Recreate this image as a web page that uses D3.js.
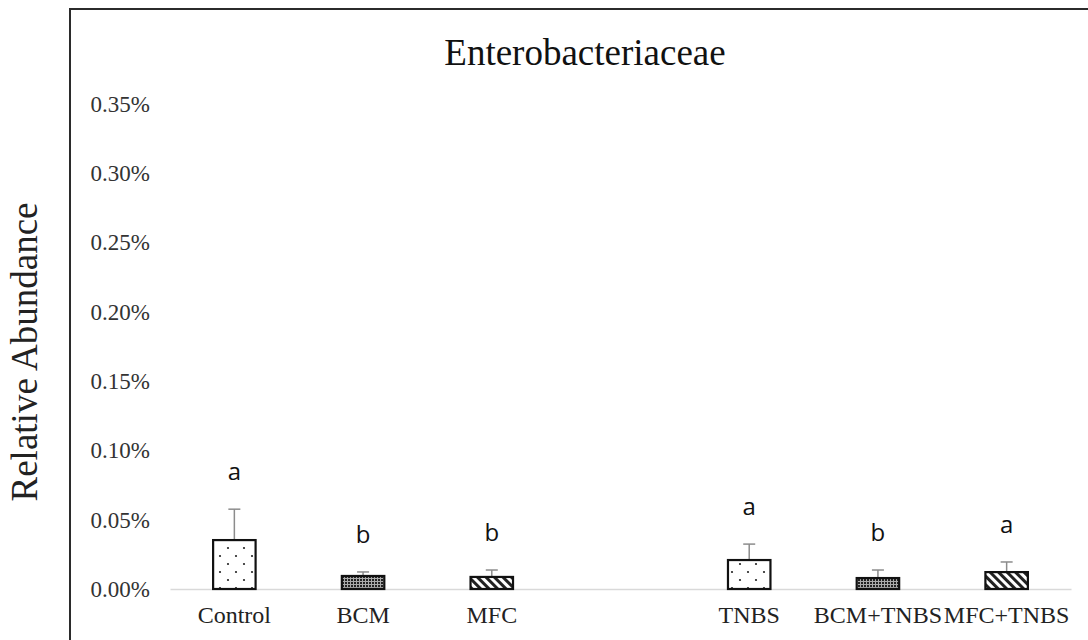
<!DOCTYPE html>
<html>
<head>
<meta charset="utf-8">
<script src="https://cdn.jsdelivr.net/npm/d3@7"></script>
<style>
  body { margin: 0; background: #fff; }
  svg { display: block; }
</style>
</head>
<body>
<script>
// chart data (fractions of 1, shown as %)
var categories = ['Control', 'BCM', 'MFC', '', 'TNBS', 'BCM+TNBS', 'MFC+TNBS'];
var means = [0.000353, 0.000094, 0.000087, null, 0.000209, 0.000079, 0.000122];
var errors = [0.000223, 0.000029, 0.000050, null, 0.000115, 0.000058, 0.000073];
var letters = ['a', 'b', 'b', '', 'a', 'b', 'a'];
var patterns = ['dots', 'dense', 'stripes', '', 'dots', 'dense', 'stripes'];
var yTicks = [0, 0.0005, 0.001, 0.0015, 0.002, 0.0025, 0.003, 0.0035];

var W = 1088, H = 640;
var serif = '"Liberation Serif", "Times New Roman", serif';
var svg = d3.select('body').append('svg')
    .attr('width', W)
    .attr('height', H);

// plot area
var plotLeft = 170, plotRight = 1071, plotTop = 104, plotBottom = 589;

var x = d3.scaleBand().domain(d3.range(categories.length)).range([plotLeft, plotRight])
    .paddingInner(0.67).paddingOuter(0.335);
var y = d3.scaleLinear().domain([0, 0.0035]).range([plotBottom, plotTop]);

// fill patterns
var defs = svg.append('defs');
var pDots = defs.append('pattern').attr('id', 'dots').attr('patternUnits', 'userSpaceOnUse')
    .attr('width', 16).attr('height', 16);
pDots.append('circle').attr('cx', 4).attr('cy', 4).attr('r', 1.1).attr('fill', '#222');
pDots.append('circle').attr('cx', 12).attr('cy', 12).attr('r', 1.1).attr('fill', '#222');

var pDense = defs.append('pattern').attr('id', 'dense').attr('patternUnits', 'userSpaceOnUse')
    .attr('width', 3).attr('height', 3);
pDense.append('rect').attr('width', 3).attr('height', 3).attr('fill', '#aaa');
pDense.append('rect').attr('width', 2).attr('height', 2).attr('fill', '#222');

var pStripes = defs.append('pattern').attr('id', 'stripes').attr('patternUnits', 'userSpaceOnUse')
    .attr('width', 6).attr('height', 6).attr('patternTransform', 'rotate(-45)');
pStripes.append('rect').attr('width', 6).attr('height', 6).attr('fill', '#fff');
pStripes.append('rect').attr('width', 3).attr('height', 6).attr('fill', '#222');

// outer frame (only top and left visible)
svg.append('path')
    .attr('d', 'M70,' + (H + 5) + 'V9H' + (W + 5))
    .attr('fill', 'none')
    .attr('stroke', '#2b2b2b')
    .attr('stroke-width', 2);

// title
svg.append('text')
    .attr('x', 585).attr('y', 65)
    .attr('text-anchor', 'middle')
    .style('font-family', serif)
    .style('font-size', '37px')
    .attr('fill', '#111')
    .text('Enterobacteriaceae');

// y-axis label
svg.append('text')
    .attr('transform', 'translate(37,352) rotate(-90)')
    .attr('text-anchor', 'middle')
    .style('font-family', serif)
    .style('font-size', '37px')
    .attr('fill', '#222')
    .text('Relative Abundance');

// y-axis tick labels
var yAxis = d3.axisLeft(y).tickValues(yTicks).tickSize(0).tickPadding(0)
    .tickFormat(d3.format('.2%'));
var gy = svg.append('g').attr('transform', 'translate(150,0)').call(yAxis);
gy.select('.domain').remove();
gy.selectAll('text')
    .style('font-family', serif)
    .style('font-size', '23px')
    .attr('fill', '#333');

// baseline / x-axis
var xAxis = d3.axisBottom(x).tickSize(0).tickPadding(17)
    .tickFormat(function(i) { return categories[i]; });
var gx = svg.append('g').attr('transform', 'translate(0,' + plotBottom + ')').call(xAxis);
gx.select('.domain').attr('stroke', '#d9d9d9').attr('stroke-width', 1.5);
gx.selectAll('text')
    .style('font-family', serif)
    .style('font-size', '24px')
    .attr('fill', '#222');

var idx = d3.range(categories.length).filter(function(i) { return means[i] !== null; });

// error bars (upper only)
var eb = svg.append('g').attr('stroke', '#8c8c8c').attr('stroke-width', 1.5);
idx.forEach(function(i) {
    var cx = x(i) + x.bandwidth() / 2;
    eb.append('line').attr('x1', cx).attr('x2', cx)
        .attr('y1', y(means[i])).attr('y2', y(means[i] + errors[i]));
    eb.append('line').attr('x1', cx - 6).attr('x2', cx + 6)
        .attr('y1', y(means[i] + errors[i])).attr('y2', y(means[i] + errors[i]));
});

// bars
svg.selectAll('.bar')
    .data(idx)
    .enter().append('rect')
    .attr('class', 'bar')
    .attr('x', function(i) { return x(i); })
    .attr('y', function(i) { return y(means[i]); })
    .attr('width', x.bandwidth())
    .attr('height', function(i) { return y(0) - y(means[i]); })
    .attr('fill', function(i) { return 'url(#' + patterns[i] + ')'; })
    .attr('stroke', '#111')
    .attr('stroke-width', 2.2);

// significance letters
svg.selectAll('.letter')
    .data(idx)
    .enter().append('text')
    .attr('class', 'letter')
    .attr('x', function(i) { return x(i) + x.bandwidth() / 2; })
    .attr('y', function(i) { return y(means[i] + errors[i]) - 29; })
    .attr('text-anchor', 'middle')
    .style('font-family', '"Open Sans", "DejaVu Sans", sans-serif')
    .style('font-size', '24px')
    .attr('fill', '#111')
    .text(function(i) { return letters[i]; });
</script>
</body>
</html>
